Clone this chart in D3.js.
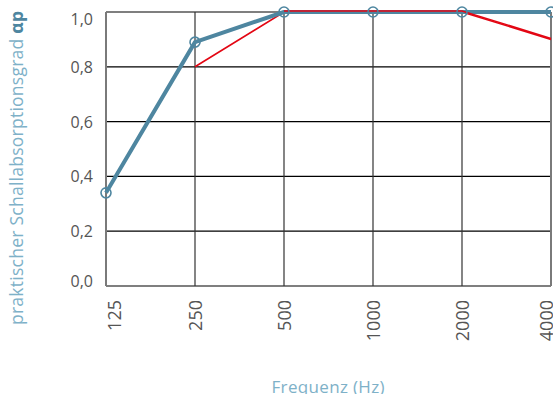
<!DOCTYPE html>
<html>
<head>
<meta charset="utf-8">
<script src="https://cdn.jsdelivr.net/npm/d3@7"></script>
<style>
  body { margin: 0; background: #fff; }
  text { font-family: "Open Sans", "Noto Sans", sans-serif; }
</style>
</head>
<body>
<script>
var svgWidth = 553;
var svgHeight = 394;

var categories = ["125", "250", "500", "1000", "2000", "4000"];
var yTicks = [0, 0.2, 0.4, 0.6, 0.8, 1.0];
var blueValues = [0.34, 0.89, 1.0, 1.0, 1.0, 1.0];
var redValues = [null, 0.8, 1.0, 1.0, 1.0, 0.9];

var plotLeft = 106, plotRight = 551, plotTop = 12, plotBottom = 286;
var blue = "#4e86a0";
var lightBlue = "#7eb1c8";

var x = d3.scalePoint()
    .domain(categories)
    .range([plotLeft, plotRight]);

var y = d3.scaleLinear()
    .domain([0, 1])
    .range([plotBottom, plotTop]);

var svg = d3.select("body")
    .append("svg")
    .attr("width", svgWidth)
    .attr("height", svgHeight);

// horizontal grid
svg.selectAll(".hgrid")
    .data(yTicks).enter()
    .append("line")
    .attr("x1", plotLeft)
    .attr("x2", plotRight)
    .attr("y1", d => y(d))
    .attr("y2", d => y(d))
    .attr("stroke", "#000")
    .attr("stroke-width", 1.2);

// vertical grid
svg.selectAll(".vgrid")
    .data(categories).enter()
    .append("line")
    .attr("x1", d => x(d))
    .attr("x2", d => x(d))
    .attr("y1", plotTop)
    .attr("y2", plotBottom)
    .attr("stroke", (d, i) => (i === 0 || i === categories.length - 1) ? "#7a7a7a" : "#333")
    .attr("stroke-width", (d, i) => (i === 0 || i === categories.length - 1) ? 2 : 1.2);

// y tick labels (end labels nudged inward like the original)
svg.selectAll(".ylab")
    .data(yTicks).enter()
    .append("text")
    .attr("x", 93)
    .attr("y", (d, i) => y(d) + 6 + (i === 0 ? -5 : (i === yTicks.length - 1 ? 7 : 0)))
    .attr("text-anchor", "end")
    .attr("fill", "#555")
    .attr("font-size", 16)
    .text(d => d3.format(".1f")(d).replace(".", ","));

// x tick labels
svg.selectAll(".xlab")
    .data(categories).enter()
    .append("text")
    .attr("transform", (d, i) => {
        var dx = i === 0 ? 8 : (i === categories.length - 1 ? -5 : 0);
        return "translate(" + (x(d) + dx + 6.5) + ",300) rotate(-90)";
    })
    .attr("text-anchor", "end")
    .attr("fill", "#555")
    .attr("font-size", 18)
    .text(d => d);

var line = d3.line()
    .defined(d => d.v !== null)
    .x(d => x(d.c))
    .y(d => y(d.v));

// red line
svg.append("path")
    .datum(categories.map((c, i) => ({c: c, v: redValues[i]})))
    .attr("d", line)
    .attr("fill", "none")
    .attr("stroke", "#e30613")
    .attr("stroke-width", 1.6);

// blue line
svg.append("path")
    .datum(categories.map((c, i) => ({c: c, v: blueValues[i]})))
    .attr("d", line)
    .attr("fill", "none")
    .attr("stroke", blue)
    .attr("stroke-width", 4)
    .attr("stroke-linejoin", "round");

// red over blue on the flat part
svg.append("path")
    .datum(categories.map((c, i) => ({c: c, v: redValues[i]})).filter((d, i) => i >= 2))
    .attr("d", line)
    .attr("fill", "none")
    .attr("stroke", "#e30613")
    .attr("stroke-width", 1.6)
    .attr("transform", "translate(0,-1)");

svg.selectAll(".marker")
    .data(blueValues).enter()
    .append("circle")
    .attr("cx", (d, i) => x(categories[i]))
    .attr("cy", d => y(d))
    .attr("r", 5)
    .attr("fill", "none")
    .attr("stroke", blue)
    .attr("stroke-width", 1.6);

// axis titles
var yTitle = svg.append("text")
    .attr("transform", "translate(23,325) rotate(-90)")
    .attr("fill", lightBlue)
    .attr("font-size", 17.5)
    .attr("textLength", 314)
    .attr("lengthAdjust", "spacing");
yTitle.append("tspan").text("praktischer Schallabsorptionsgrad ");
yTitle.append("tspan").attr("fill", blue).attr("font-weight", "bold").text("αp");

svg.append("text")
    .attr("x", 328)
    .attr("y", 393)
    .attr("text-anchor", "middle")
    .attr("fill", lightBlue)
    .attr("font-size", 17)
    .attr("textLength", 113)
    .attr("lengthAdjust", "spacing")
    .text("Frequenz (Hz)");
</script>
</body>
</html>
